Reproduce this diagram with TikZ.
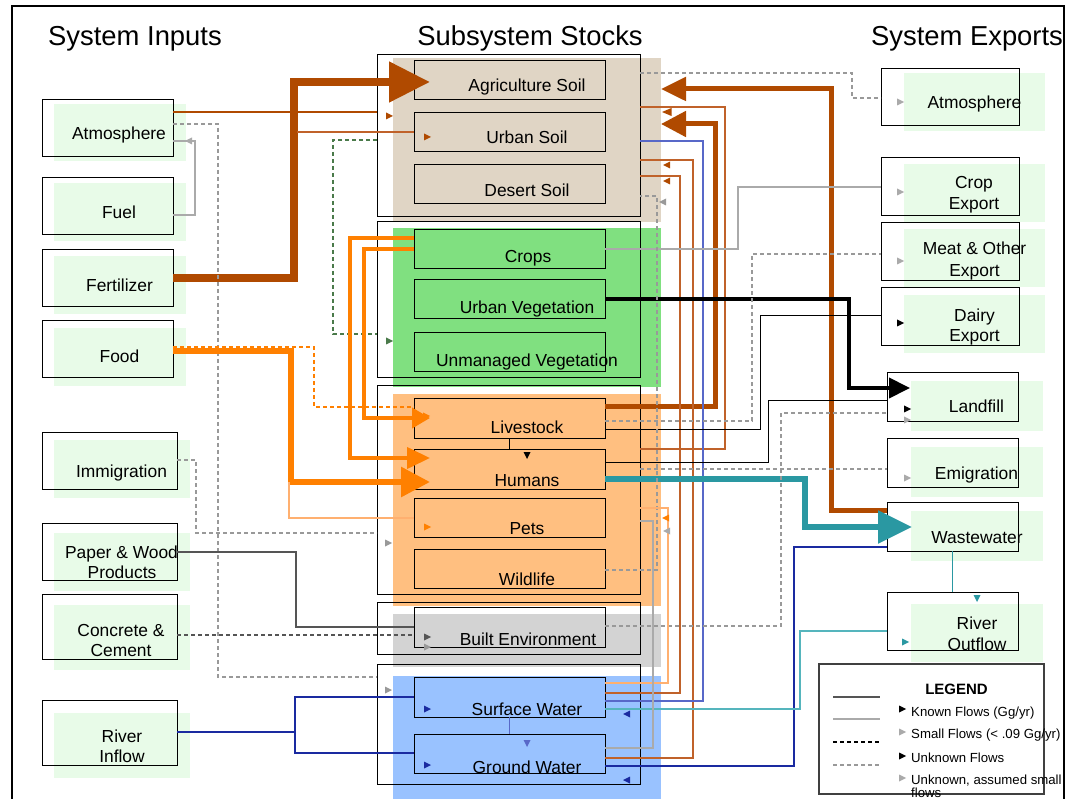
\documentclass[tikz,border=0pt]{standalone}
\usepackage{fontspec}
\setmainfont{Liberation Sans}
\usetikzlibrary{arrows.meta}
\definecolor{brn}{HTML}{B04A00}
\definecolor{brnl}{HTML}{C0622A}
\definecolor{org}{HTML}{FF8000}
\definecolor{orgl}{HTML}{FFB070}
\definecolor{tealc}{HTML}{2A98A2}
\definecolor{teall}{HTML}{55B5BD}
\definecolor{blu}{HTML}{5868C8}
\definecolor{navy}{HTML}{1A2AA0}
\definecolor{dgray}{HTML}{999999}
\definecolor{mgray}{HTML}{555555}
\definecolor{lgray}{HTML}{AAAAAA}
\definecolor{shad}{HTML}{E8FBE8}
\definecolor{tanbg}{HTML}{E0D5C5}
\definecolor{grnbg}{HTML}{80E080}
\definecolor{orgbg}{HTML}{FFBF80}
\definecolor{grybg}{HTML}{D3D3D3}
\definecolor{blubg}{HTML}{99C2FF}
\definecolor{dgreen}{HTML}{4A7A4A}
\tikzset{
  bx/.style 2 args={draw=black, line width=1pt, minimum width=#1, minimum height=#2, inner sep=0pt, outer sep=0pt},
  lbl/.style={font=\fontsize{17.4}{20}\selectfont, anchor=base, inner sep=0pt},
  hdr/.style={font=\fontsize{27.4}{31}\selectfont, anchor=base, inner sep=0pt},
  lgt/.style={font=\fontsize{13.2}{15}\selectfont, anchor=base west, inner sep=0pt},
  dsh/.style={dgray, line width=1.2pt, dash pattern=on 4pt off 3pt},
  onept/.style={line width=1.3pt},
  mkr/.pic={\fill[#1] (-3,-3.5) -- (4,0) -- (-3,3.5) -- cycle;},
  mkl/.pic={\fill[#1] (3,-3.5) -- (-4,0) -- (3,3.5) -- cycle;},
  mkd/.pic={\fill[#1] (-3.5,-3) -- (0,4) -- (3.5,-3) -- cycle;},
  mkL/.pic={\fill[#1] (4.5,-4) -- (-5,0) -- (4.5,4) -- cycle;},
}
\begin{document}
\begin{tikzpicture}[x=1pt,y=-1pt]
\useasboundingbox (0,0) rectangle (1079,799);
\fill[white] (0,0) rectangle (1079,799);

% ---------- backgrounds ----------
\foreach \a/\b/\c/\d in {54/104/186/161, 54/183/186/241, 54/256/186/314, 54/328/186/386,
  54/440/190/498, 54/533/190/591, 54/605/190/670, 54/713/190/778,
  904/73/1045/131, 904/164/1045/222, 904/229/1045/287, 904/295/1045/353,
  911/381/1043/431, 911/447/1043/497, 911/511/1043/561, 911/604/1043/662}
  \fill[shad] (\a,\b) rectangle (\c,\d);
\fill[tanbg] (393,58) rectangle (661,222);
\fill[grnbg] (393,228) rectangle (661,387);
\fill[orgbg] (393,394) rectangle (661,606);
\fill[grybg] (393,614) rectangle (661,667);
\fill[blubg] (393,676) rectangle (661,799);

% frame
\draw[line width=1.2pt] (12,800) -- (12,6) -- (1064,6) -- (1064,800);

% ---------- headers ----------
\node[hdr] (hIn) at (135,46) {System Inputs};
\node[hdr] (hStock) at (530,46) {Subsystem Stocks};
\node[hdr] (hOut) at (967,46) {System Exports};

% ---------- input boxes ----------
\node[bx={131pt}{57pt}] (inAtm) at (107.5,128.5) {};
\node[bx={131pt}{57pt}] (inFuel) at (107.5,206.5) {};
\node[bx={131pt}{57pt}] (inFert) at (107.5,278.5) {};
\node[bx={131pt}{57pt}] (inFood) at (107.5,349.5) {};
\node[bx={135pt}{57pt}] (inImm) at (109.5,460.5) {};
\node[bx={135pt}{57pt}] (inPaper) at (109.5,551.5) {};
\node[bx={135pt}{65pt}] (inConc) at (109.5,626.5) {};
\node[bx={135pt}{65pt}] (inRiver) at (109.5,732.5) {};

% ---------- group boxes ----------
\node[bx={263pt}{162pt}] (gSoil) at (508.5,136) {};
\node[bx={263pt}{156pt}] (gVeg) at (508.5,300) {};
\node[bx={263pt}{208pt}] (gAnim) at (508.5,490) {};
\node[bx={263pt}{52pt}] (gBuilt) at (508.5,628) {};
\node[bx={263pt}{120pt}] (gWater) at (508.5,724) {};

% ---------- stock boxes ----------
\node[bx={191pt}{39pt}] (agSoil) at (509.5,80.5) {};
\node[bx={191pt}{39pt}] (urbSoil) at (509.5,132.5) {};
\node[bx={191pt}{39pt}] (desSoil) at (509.5,184.5) {};
\node[bx={191pt}{39pt}] (crops) at (509.5,249.5) {};
\node[bx={191pt}{39pt}] (urbVeg) at (509.5,299.5) {};
\node[bx={191pt}{39pt}] (unVeg) at (509.5,352.5) {};
\node[bx={191pt}{39pt}] (livestock) at (509.5,418.5) {};
\node[bx={191pt}{40pt}] (humans) at (509.5,469) {};
\node[bx={191pt}{39pt}] (pets) at (509.5,517.5) {};
\node[bx={191pt}{39pt}] (wildlife) at (509.5,568.5) {};
\node[bx={191pt}{40pt}] (built) at (509.5,627) {};
\node[bx={191pt}{40pt}] (surfW) at (509.5,697) {};
\node[bx={191pt}{39pt}] (gndW) at (509.5,753.5) {};

% ---------- export boxes ----------
\node[bx={138pt}{57pt}] (exAtm) at (950,97.5) {};
\node[bx={138pt}{58pt}] (exCrop) at (950,187) {};
\node[bx={138pt}{58pt}] (exMeat) at (950,252) {};
\node[bx={138pt}{58pt}] (exDairy) at (950,317) {};
\node[bx={131pt}{49pt}] (landfill) at (952.5,397.5) {};
\node[bx={131pt}{49pt}] (emig) at (952.5,462.5) {};
\node[bx={131pt}{49pt}] (waste) at (952.5,526.5) {};
\node[bx={131pt}{58pt}] (rivOut) at (952.5,621) {};

% ---------- connectors: inputs ----------
\draw[brn, line width=8pt, -{Triangle[length=41pt,width=39pt]}, shorten >=-16pt]
  (inFert.east |- 0,278) -| (294,82) -- (agSoil.west |- 0,82);
\draw[brn, onept] (inAtm.east |- 0,112) -- (gSoil.west |- 0,112);
\pic at (389,116) {mkr=brn};
\coordinate (fertV) at (297,132);
\draw[brnl, onept] (fertV) -- (urbSoil.west |- 0,132);
\pic at (427,137) {mkr=brn};
\draw[lgray, line width=1.2pt] (inFuel.east |- 0,215) -| (195,141) -- (inAtm.east |- 0,141);
\pic at (189,141) {mkl=lgray};
\draw[dsh] (inAtm.east |- 0,124) -| (218,677) -- (gWater.west |- 0,677);
\pic at (388,690) {mkr=dgray};
\draw[dgreen, line width=1.2pt, dash pattern=on 4pt off 3pt] (gSoil.west |- 0,140) -| (333,334) -- (gVeg.west |- 0,334);
\pic at (389,341) {mkr=dgreen};

\draw[org, line width=6pt, -{Triangle[length=29pt,width=29pt]}, shorten >=-16pt]
  (inFood.east |- 0,351) -| (291,482) -- (humans.west |- 0,482);
\draw[org, onept, dash pattern=on 4pt off 3pt] (inFood.east |- 0,347) -| (314,407) -- (livestock.west |- 0,407);
\pic at (426,416) {mkr=org};
\coordinate (foodV) at (289,482);
\draw[orgl, line width=1.2pt] (foodV) |- (pets.west |- 0,518);
\pic at (427,527) {mkr=org};
\draw[org, line width=4pt, -{Triangle[length=18pt,width=20pt]}, shorten >=-16pt]
  (crops.west |- 0,249) -| (364,418) -- (livestock.west |- 0,418);
\draw[org, line width=4pt, -{Triangle[length=23pt,width=21pt]}, shorten >=-16pt]
  (crops.west |- 0,238) -| (350,458) -- (humans.west |- 0,458);

\draw[black, onept] (livestock.south) -- (humans.north);
\pic at (527,455) {mkd=black};
\draw[blu, onept] (surfW.south) -- (gndW.north);
\pic at (527,743) {mkd=blu};

\draw[mgray, line width=1.5pt] (inPaper.east |- 0,552) -| (296,627) -- (built.west |- 0,627);
\pic at (427,637) {mkr=mgray};
\draw[mgray, line width=1.2pt, dash pattern=on 4pt off 3pt] (inConc.east |- 0,635) -- (built.west |- 0,635);
\pic at (427,647) {mkr=dgray};
\draw[dsh] (inImm.east |- 0,460) -| (196,533) -- (gAnim.west |- 0,533);
\pic at (388,543) {mkr=dgray};

\draw[navy, line width=1.2pt] (inRiver.east |- 0,732) -| (295,697) -- (surfW.west |- 0,697);
\coordinate (rivV) at (295,732);
\draw[navy, line width=1.2pt] (rivV) |- (gndW.west |- 0,753);
\pic at (427,709) {mkr=navy};
\pic at (427,765) {mkr=navy};

% ---------- connectors: right side ----------
\draw[brn, line width=5pt, -{Triangle[length=25pt,width=23pt]}, shorten >=21pt]
  (waste.west |- 0,510) -| (831,89) -- (gSoil.east |- 0,89);
\draw[brn, line width=5pt, -{Triangle[length=25pt,width=25pt]}, shorten >=21pt]
  (livestock.east |- 0,407) -| (715,124) -- (gSoil.east |- 0,124);
\draw[brnl, line width=1.3pt] (gAnim.east |- 0,449) -| (725,107) -- (gSoil.east |- 0,107);
\pic at (667,112) {mkL=brn};
\draw[brnl, onept] (gndW.east |- 0,758) -| (693,160) -- (gSoil.east |- 0,160);
\pic at (667,165) {mkl=brn};
\draw[brnl, onept] (surfW.east |- 0,693) -| (680,176) -- (gSoil.east |- 0,176);
\pic at (667,181) {mkl=brn};
\draw[blu, line width=1.2pt] (gSoil.east |- 0,141) -| (703,701) -- (surfW.east |- 0,701);
\pic at (627,714) {mkl=navy};
\draw[navy, line width=1.2pt] (waste.west |- 0,547) -| (794,766) -- (gndW.east |- 0,766);
\pic at (627,780) {mkl=navy};

\draw[black, line width=4pt, -{Triangle[length=21pt,width=20pt]}, shorten >=-23pt]
  (urbVeg.east |- 0,299) -| (849,388) -- (landfill.west |- 0,388);
\draw[tealc, line width=6pt, -{Triangle[length=34pt,width=32pt]}, shorten >=-25pt]
  (humans.east |- 0,479) -| (805,527) -- (waste.west |- 0,527);
\draw[teall, line width=1.2pt] (surfW.east |- 0,709) -| (800,631) -- (rivOut.west |- 0,631);
\pic at (905,642) {mkr=tealc};
\draw[tealc, line width=1.2pt] (waste.south) -- (rivOut.north);
\pic at (977,598) {mkd=tealc};

\draw[lgray, line width=1.2pt] (crops.east |- 0,249) -| (738,187) -- (exCrop.west |- 0,187);
\pic at (900,192) {mkr=lgray};
\draw[dsh] (gSoil.east |- 0,73) -| (852,98) -- (exAtm.west |- 0,98);
\pic at (900,102) {mkr=lgray};
\draw[dsh] (livestock.east |- 0,421) -| (752,254) -- (exMeat.west |- 0,254);
\pic at (900,261) {mkr=lgray};
\draw[black, line width=1pt] (livestock.east |- 0,429) -| (760,316) -- (exDairy.west |- 0,316);
\pic at (900,323) {mkr=black};
\draw[black, line width=1pt] (humans.east |- 0,462) -| (768,401) -- (landfill.west |- 0,401);
\pic at (907,409) {mkr=black};
\draw[dsh] (built.east |- 0,626) -| (781,413) -- (landfill.west |- 0,413);
\pic at (907,420) {mkr=lgray};
\draw[dsh] (gAnim.east |- 0,469) -- (emig.west |- 0,469);
\pic at (907,478) {mkr=lgray};
\draw[dsh] (wildlife.east |- 0,570) -| (657,196) -- (gSoil.east |- 0,196);
\pic at (663,202) {mkl=dgray};
\draw[orgl, line width=1.2pt] (surfW.east |- 0,683) -| (668,508) -- (gAnim.east |- 0,508);
\pic at (666,518) {mkl=org};
\draw[lgray, line width=1.2pt] (gndW.east |- 0,748) -| (653,521) -- (gAnim.east |- 0,521);
\pic at (667,531) {mkl=lgray};

% ---------- labels ----------
\node[lbl] (tInAtm) at (119,140) {Atmosphere};
\node[lbl] (tInFuel) at (119,219) {Fuel};
\node[lbl] (tInFert) at (119.5,292) {Fertilizer};
\node[lbl] (tInFood) at (119.5,363) {Food};
\node[lbl] (tInImm) at (121.5,477) {Immigration};
\node[lbl] (tInPap1) at (121.5,558) {Paper \& Wood};
\node[lbl] (tInPap2) at (122,578) {Products};
\node[lbl] (tInCon1) at (121,636) {Concrete \&};
\node[lbl] (tInCon2) at (121,656) {Cement};
\node[lbl] (tInRiv1) at (122,742) {River};
\node[lbl] (tInRiv2) at (122,762) {Inflow};

\node[lbl] (tAg) at (527,92) {Agriculture Soil};
\node[lbl] (tUS) at (527,144) {Urban Soil};
\node[lbl] (tDS) at (527,197) {Desert Soil};
\node[lbl] (tCr) at (528,263) {Crops};
\node[lbl] (tUV) at (527,314) {Urban Vegetation};
\node[lbl] (tUnV) at (527,367) {Unmanaged Vegetation};
\node[lbl] (tLs) at (527,434) {Livestock};
\node[lbl] (tHu) at (527,486) {Humans};
\node[lbl] (tPe) at (527,534) {Pets};
\node[lbl] (tWi) at (527,585) {Wildlife};
\node[lbl] (tBE) at (528,645) {Built Environment};
\node[lbl] (tSW) at (527,715) {Surface Water};
\node[lbl] (tGW) at (527,773) {Ground Water};

\node[lbl] (tExAtm) at (974.5,109) {Atmosphere};
\node[lbl] (tExCr1) at (974,189) {Crop};
\node[lbl] (tExCr2) at (974,210) {Export};
\node[lbl] (tExMe1) at (974.5,255) {Meat \& Other};
\node[lbl] (tExMe2) at (974.5,277) {Export};
\node[lbl] (tExDa1) at (974.5,322) {Dairy};
\node[lbl] (tExDa2) at (974.5,342) {Export};
\node[lbl] (tLf) at (976.5,413) {Landfill};
\node[lbl] (tEm) at (976.5,479) {Emigration};
\node[lbl] (tWw) at (977,543) {Wastewater};
\node[lbl] (tRo1) at (977,629) {River};
\node[lbl] (tRo2) at (977,650) {Outflow};

% ---------- legend ----------
\node[draw=black!75, line width=2pt, minimum width=225pt, minimum height=130pt, inner sep=0pt] (legend) at (931.5,729) {};
\node[font=\bfseries\fontsize{15}{18}\selectfont, anchor=base, inner sep=0pt] (legT) at (956.5,694) {LEGEND};
\draw[mgray, line width=1.5pt] (833,697) coordinate (l1a) -- (880,697) coordinate (l1b);
\draw[lgray, line width=1.2pt] (833,719) coordinate (l2a) -- (880,719) coordinate (l2b);
\draw[black, line width=1.2pt, dash pattern=on 4pt off 3pt] (833,742) coordinate (l3a) -- (880,742) coordinate (l3b);
\draw[dsh] (833,765) coordinate (l4a) -- (880,765) coordinate (l4b);
\pic at (902,709) {mkr=black};
\pic at (902,732) {mkr=lgray};
\pic at (902,756) {mkr=black};
\pic at (902,778) {mkr=lgray};
\node[lgt] (lg1) at (911,716) {Known Flows (Gg/yr)};
\node[lgt] (lg2) at (911,738) {Small Flows (< .09 Gg/yr)};
\node[lgt] (lg3) at (911,762) {Unknown Flows};
\node[lgt] (lg4) at (911,784) {Unknown, assumed small};
\node[lgt] (lg5) at (911,797) {flows};
\end{tikzpicture}
\end{document}
